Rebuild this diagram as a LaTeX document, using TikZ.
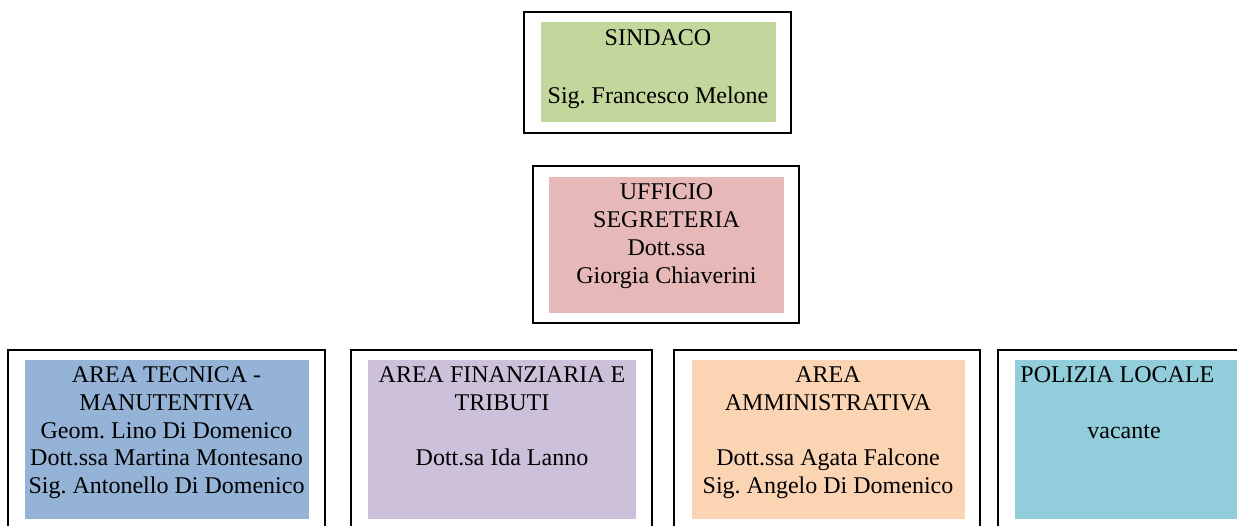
\documentclass[tikz,border=0pt]{standalone}
\usepackage{fontspec}
\setmainfont{Liberation Serif}
\frenchspacing
\definecolor{cGreen}{HTML}{C3D69B}
\definecolor{cPink}{HTML}{E6B9B8}
\definecolor{cBlue}{HTML}{95B3D7}
\definecolor{cPurple}{HTML}{CCC0DA}
\definecolor{cPeach}{HTML}{FBD4B4}
\definecolor{cTeal}{HTML}{92CDDC}
\begin{document}
\begin{tikzpicture}[x=0.5pt,y=-0.5pt,
  frame/.style={draw=black,line width=1pt},
  lbl/.style={anchor=north,inner sep=0pt,align=center,text=black,execute at begin node=\strut},
  top/.style={font=\fontsize{12}{14.5}\selectfont},
  mid/.style={font=\fontsize{12}{14}\selectfont},
  low/.style={font=\fontsize{12}{13.85}\selectfont},
  single/.style={inner sep=0pt,text=black,font=\fontsize{12}{13.85}\selectfont}]
\useasboundingbox (0,0) rectangle (1237,525);
\clip (0,0) rectangle (1237,525);
% top box
\draw[frame] (524,12) rectangle (791,133);
\fill[cGreen] (541,22) rectangle (776,122);
\node[lbl,top] (sindaco) at (658,29.7) {SINDACO\\ \\Sig. Francesco Melone};
% segreteria
\draw[frame] (533,166) rectangle (799,323);
\fill[cPink] (549,177) rectangle (784,313);
\node[lbl,mid] (segreteria) at (666.5,182.9) {UFFICIO\\SEGRETERIA\\Dott.ssa\\Giorgia Chiaverini};
% area tecnica
\draw[frame] (8,350) rectangle (325,545);
\fill[cBlue] (25,360) rectangle (309,519);
\node[lbl,low] (tecnica) at (166.5,366.6) {AREA TECNICA -\\MANUTENTIVA\\Geom. Lino Di Domenico\\Dott.ssa Martina Montesano\\Sig. Antonello Di Domenico};
% area finanziaria
\draw[frame] (351,350) rectangle (652,545);
\fill[cPurple] (368,360) rectangle (636,519);
\node[lbl,low] (finanziaria) at (502,366.6) {AREA FINANZIARIA E\\TRIBUTI\\ \\Dott.sa Ida Lanno};
% area amministrativa
\draw[frame] (674,350) rectangle (980,545);
\fill[cPeach] (692,360) rectangle (965,519);
\node[lbl,low] (amministrativa) at (828,366.6) {AREA\\AMMINISTRATIVA\\ \\Dott.ssa Agata Falcone\\Sig. Angelo Di Domenico};
% polizia locale
\draw[frame] (998,350) rectangle (1260,545);
\fill[cTeal] (1015,360) rectangle (1245,519);
\node[single,anchor=base west] (polizia) at (1020,382) {POLIZIA LOCALE};
\node[single,anchor=base] (vacante) at (1124,438) {vacante};
\end{tikzpicture}
\end{document}
